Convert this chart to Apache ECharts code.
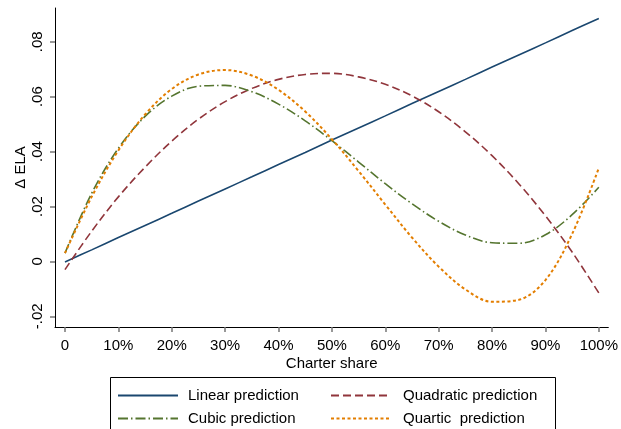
<!DOCTYPE html>
<html>
<head>
<meta charset="utf-8">
<script src="https://cdn.jsdelivr.net/npm/echarts@6/dist/echarts.min.js"></script>
<style>
  html, body { margin: 0; padding: 0; background: #fff; }
  #chart { width: 621px; height: 429px; }
</style>
</head>
<body>
<div id="chart"></div>
<script>
// Charter share (fraction of schools) at which each prediction is read
const shares = [0, 0.05, 0.10, 0.15, 0.20, 0.25, 0.30, 0.35, 0.40, 0.45, 0.50,
                0.55, 0.60, 0.65, 0.70, 0.75, 0.80, 0.85, 0.90, 0.95, 1.00];

// Predicted change in ELA for each specification
const linearValues = [-0.0002, 0.0042, 0.0087, 0.0131, 0.0175, 0.0220, 0.0264, 0.0308, 0.0353, 0.0397, 0.0442,
                      0.0486, 0.0530, 0.0575, 0.0619, 0.0663, 0.0708, 0.0752, 0.0796, 0.0841, 0.0885];
const quadraticValues = [-0.0030, 0.0110, 0.0235, 0.0343, 0.0438, 0.0518, 0.0582, 0.0630, 0.0663, 0.0681, 0.0685,
                         0.0672, 0.0645, 0.0603, 0.0545, 0.0472, 0.0385, 0.0283, 0.0166, 0.0034, -0.0115];
const cubicValues = [0.0030, 0.0248, 0.0412, 0.0528, 0.0602, 0.0638, 0.0641, 0.0618, 0.0573, 0.0512, 0.0440,
                     0.0362, 0.0283, 0.0210, 0.0146, 0.0096, 0.0068, 0.0066, 0.0097, 0.0170, 0.0270];
const quarticValues = [0.0030, 0.0235, 0.0404, 0.0535, 0.0628, 0.0681, 0.0697, 0.0677, 0.0625, 0.0546, 0.0445,
                       0.0329, 0.0207, 0.0087, -0.0019, -0.0102, -0.0147, -0.0140, -0.0068, 0.0100, 0.0340];

// Axis ticks
const xTicks = [0, 0.1, 0.2, 0.3, 0.4, 0.5, 0.6, 0.7, 0.8, 0.9, 1.0];
const xTickLabels = ['0', '10%', '20%', '30%', '40%', '50%', '60%', '70%', '80%', '90%', '100%'];
const yTicks = [-0.02, 0, 0.02, 0.04, 0.06, 0.08];
const yTickLabels = ['-.02', '0', '.02', '.04', '.06', '.08'];

const seriesNames = ['Linear prediction', 'Quadratic prediction', 'Cubic prediction', 'Quartic  prediction'];

const FONT = '"Liberation Sans", Arial, sans-serif';
const FONT_SIZE = 15;

function pairs(values) {
  return shares.map((s, i) => [s, values[i]]);
}

function labelFor(ticks, labels) {
  return function (v) {
    for (let i = 0; i < ticks.length; i++) {
      if (Math.abs(ticks[i] - v) < 1e-9) return labels[i];
    }
    return '';
  };
}

const chart = echarts.init(document.getElementById('chart'), null, { renderer: 'canvas' });

const lineSeries = (name, values, color, dash, width) => ({
  name: name,
  type: 'line',
  data: pairs(values),
  smooth: 0.35,
  symbol: 'none',
  legendIcon: 'inherit',
  animation: false,
  lineStyle: { color: color, width: width, type: dash },
  itemStyle: { color: color }
});

const legendBase = {
  orient: 'vertical',
  top: 388,
  padding: 0,
  itemHeight: 14,
  itemGap: 8,
  icon: 'inherit',
  itemStyle: { opacity: 0 }
};

chart.setOption({
  backgroundColor: '#fff',
  animation: false,
  grid: { left: 55, right: 12, top: 8, bottom: 102, containLabel: false },
  xAxis: {
    type: 'value',
    min: -0.0187,
    max: 1.0178,
    name: 'Charter share',
    nameLocation: 'middle',
    nameGap: 29,
    nameMoveOverlap: false,
    nameTextStyle: { fontFamily: FONT, fontSize: FONT_SIZE, color: '#000' },
    axisLine: { show: true, onZero: false, lineStyle: { color: '#000', width: 1 } },
    axisTick: { show: true, customValues: xTicks, length: 5, lineStyle: { color: '#777', width: 1.5 } },
    axisLabel: {
      customValues: xTicks,
      formatter: labelFor(xTicks, xTickLabels),
      fontFamily: FONT, fontSize: FONT_SIZE, color: '#000', margin: 11
    },
    splitLine: { show: false }
  },
  yAxis: {
    type: 'value',
    min: -0.0239,
    max: 0.0923,
    name: 'Δ ELA',
    nameLocation: 'middle',
    nameRotate: 90,
    nameGap: 27,
    nameMoveOverlap: false,
    nameTextStyle: { fontFamily: FONT, fontSize: FONT_SIZE, color: '#000' },
    axisLine: { show: true, onZero: false, lineStyle: { color: '#000', width: 1 } },
    axisTick: { show: true, customValues: yTicks, length: 5, lineStyle: { color: '#777', width: 1.5 } },
    axisLabel: {
      customValues: yTicks,
      formatter: labelFor(yTicks, yTickLabels),
      rotate: 90,
      fontFamily: FONT, fontSize: FONT_SIZE, color: '#000', margin: 10
    },
    splitLine: { show: false }
  },
  legend: [
    Object.assign({}, legendBase, {
      data: [seriesNames[0], seriesNames[2]],
      left: 117,
      itemWidth: 60,
      textStyle: { fontFamily: FONT, fontSize: FONT_SIZE, color: '#000', padding: [0, 0, 0, 5] }
    }),
    Object.assign({}, legendBase, {
      data: [seriesNames[1], seriesNames[3]],
      left: 330,
      itemWidth: 58,
      textStyle: { fontFamily: FONT, fontSize: FONT_SIZE, color: '#000', padding: [0, 0, 0, 9] }
    })
  ],
  graphic: [
    {
      type: 'rect',
      silent: true,
      shape: { x: 110.5, y: 377.5, width: 445, height: 60 },
      style: { fill: 'none', stroke: '#000', lineWidth: 1 }
    }
  ],
  series: [
    lineSeries(seriesNames[0], linearValues, '#1a476f', 'solid', 1.6),
    lineSeries(seriesNames[1], quadraticValues, '#90353b', [8, 4], 1.6),
    lineSeries(seriesNames[2], cubicValues, '#55752f', [10, 3, 1.5, 3], 1.6),
    lineSeries(seriesNames[3], quarticValues, '#e37e00', [3, 2.5], 2)
  ]
});
</script>
</body>
</html>
